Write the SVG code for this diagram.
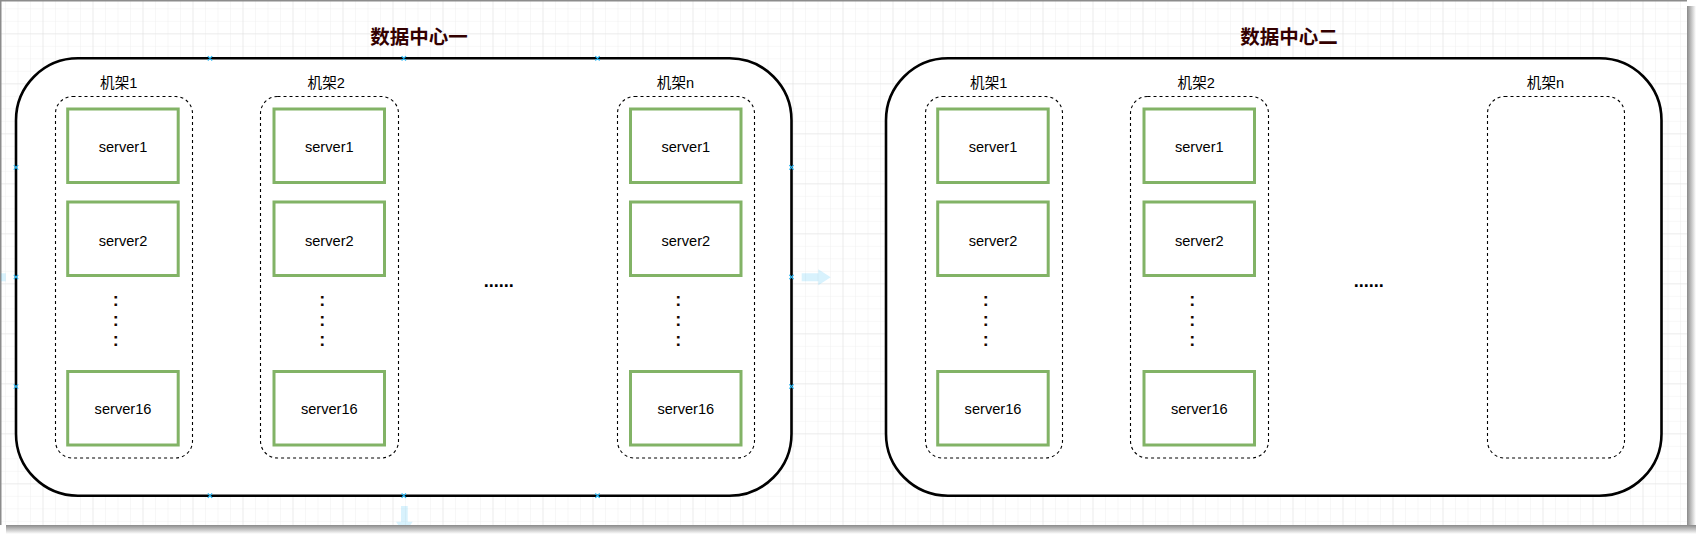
<svg xmlns="http://www.w3.org/2000/svg" width="1698" height="535" viewBox="0 0 1698 535">
  <defs>
    <pattern id="gridMinor" patternUnits="userSpaceOnUse" x="5" y="8.33" width="12.5" height="12.5">
      <path d="M0 0H12.5M0 0V12.5" fill="none" stroke="#efefef" stroke-width="1"/>
    </pattern>
    <pattern id="gridMajor" patternUnits="userSpaceOnUse" x="42.5" y="33.33" width="50" height="50">
      <path d="M0 0H50M0 0V50" fill="none" stroke="#e1e1e1" stroke-width="1"/>
    </pattern>
    <linearGradient id="shR" x1="0" y1="0" x2="1" y2="0">
      <stop offset="0" stop-color="#8a8a8a"/>
      <stop offset="1" stop-color="#ffffff"/>
    </linearGradient>
    <linearGradient id="shB" x1="0" y1="0" x2="0" y2="1">
      <stop offset="0" stop-color="#8a8a8a"/>
      <stop offset="1" stop-color="#ffffff"/>
    </linearGradient>
    <clipPath id="screen"><rect x="0" y="0" width="1687" height="525"/></clipPath>
  </defs>
  <style>
    .dc{fill:#ffffff;stroke:#000000;stroke-width:2.6}
    .rack{fill:none;stroke:#000000;stroke-width:1.1;stroke-dasharray:3 3}
    .srv{fill:#ffffff;stroke:#82b366;stroke-width:3}
    .t{font-family:"Liberation Sans",Arial,"Noto Sans CJK SC",sans-serif;font-size:14.6px;fill:#000000;text-anchor:middle}
    .title{font-family:"Noto Sans CJK SC","Liberation Sans",sans-serif;font-size:19.5px;font-weight:bold;fill:#330000;text-anchor:middle}
    .dots{font-family:"Liberation Sans",Arial,sans-serif;font-size:18px;font-weight:bold;fill:#000000;text-anchor:middle}
    .colon{font-family:"Liberation Sans",Arial,sans-serif;font-size:18px;font-weight:bold;fill:#1a0a00;text-anchor:middle}
    .mk{fill:none;stroke:#29b6f2;stroke-width:1.2}
    .hover{fill:#29b6f2;fill-opacity:0.18}
  </style>

  <!-- page background -->
  <rect x="0" y="0" width="1698" height="535" fill="#ffffff"/>
  <rect x="1687" y="6" width="9" height="527" fill="url(#shR)"/>
  <rect x="6" y="525" width="1690" height="9" fill="url(#shB)"/>
  <rect x="0" y="0" width="1687" height="525" fill="#ffffff"/>
  <rect x="0" y="0" width="1687" height="525" fill="url(#gridMinor)"/>
  <rect x="0" y="0" width="1687" height="525" fill="url(#gridMajor)"/>
  <path d="M0.75 525V0.75H1687" fill="none" stroke="#8c8c8c" stroke-width="1.5"/>

  <!-- ===== Data center 1 ===== -->
  <g id="dc1">
    <rect class="dc" x="16" y="58.3" width="775.5" height="437.4" rx="62" ry="62"/>
  </g>
  <g id="dc1-title">
    <text class="title" x="419" y="44">数据中心一</text>
  </g>

  <g id="dc1-rack1">
    <rect class="rack" x="55.5" y="96.5" width="137" height="361.5" rx="17" ry="17"/>
    <text class="t" x="118.7" y="88">机架1</text>
  </g>
  <g id="dc1-rack1-server1"><rect class="srv" x="67.7" y="109" width="110.5" height="73.5"/><text class="t" x="123" y="152.4">server1</text></g>
  <g id="dc1-rack1-server2"><rect class="srv" x="67.7" y="202" width="110.5" height="73.5"/><text class="t" x="123" y="245.6">server2</text></g>
  <g id="dc1-rack1-more"><text class="colon" x="115.7"><tspan x="115.7" y="306.3">:</tspan><tspan x="115.7" y="326.3">:</tspan><tspan x="115.7" y="346.3">:</tspan></text></g>
  <g id="dc1-rack1-server16"><rect class="srv" x="67.7" y="371.5" width="110.5" height="73.5"/><text class="t" x="123" y="414.3">server16</text></g>

  <g id="dc1-rack2">
    <rect class="rack" x="260.5" y="96.5" width="138" height="361.5" rx="17" ry="17"/>
    <text class="t" x="326.2" y="88">机架2</text>
  </g>
  <g id="dc1-rack2-server1"><rect class="srv" x="274" y="109" width="110.5" height="73.5"/><text class="t" x="329.3" y="152.4">server1</text></g>
  <g id="dc1-rack2-server2"><rect class="srv" x="274" y="202" width="110.5" height="73.5"/><text class="t" x="329.3" y="245.6">server2</text></g>
  <g id="dc1-rack2-more"><text class="colon" x="322.3"><tspan x="322.3" y="306.3">:</tspan><tspan x="322.3" y="326.3">:</tspan><tspan x="322.3" y="346.3">:</tspan></text></g>
  <g id="dc1-rack2-server16"><rect class="srv" x="274" y="371.5" width="110.5" height="73.5"/><text class="t" x="329.3" y="414.3">server16</text></g>

  <g id="dc1-ellipsis"><text class="dots" x="498.7" y="286.7">......</text></g>

  <g id="dc1-rackn">
    <rect class="rack" x="617.5" y="96.5" width="137" height="361.5" rx="17" ry="17"/>
    <text class="t" x="675.5" y="88">机架n</text>
  </g>
  <g id="dc1-rackn-server1"><rect class="srv" x="630.5" y="109" width="110.5" height="73.5"/><text class="t" x="685.8" y="152.4">server1</text></g>
  <g id="dc1-rackn-server2"><rect class="srv" x="630.5" y="202" width="110.5" height="73.5"/><text class="t" x="685.8" y="245.6">server2</text></g>
  <g id="dc1-rackn-more"><text class="colon" x="678.3"><tspan x="678.3" y="306.3">:</tspan><tspan x="678.3" y="326.3">:</tspan><tspan x="678.3" y="346.3">:</tspan></text></g>
  <g id="dc1-rackn-server16"><rect class="srv" x="630.5" y="371.5" width="110.5" height="73.5"/><text class="t" x="685.8" y="414.3">server16</text></g>

  <!-- ===== Data center 2 ===== -->
  <g id="dc2-layer" transform="translate(870 0)">
    <g id="dc2">
      <rect class="dc" x="16" y="58.3" width="775.5" height="437.4" rx="62" ry="62"/>
    </g>
    <g id="dc2-title">
      <text class="title" x="419" y="44">数据中心二</text>
    </g>

    <g id="dc2-rack1">
      <rect class="rack" x="55.5" y="96.5" width="137" height="361.5" rx="17" ry="17"/>
      <text class="t" x="118.7" y="88">机架1</text>
    </g>
    <g id="dc2-rack1-server1"><rect class="srv" x="67.7" y="109" width="110.5" height="73.5"/><text class="t" x="123" y="152.4">server1</text></g>
    <g id="dc2-rack1-server2"><rect class="srv" x="67.7" y="202" width="110.5" height="73.5"/><text class="t" x="123" y="245.6">server2</text></g>
    <g id="dc2-rack1-more"><text class="colon" x="115.7"><tspan x="115.7" y="306.3">:</tspan><tspan x="115.7" y="326.3">:</tspan><tspan x="115.7" y="346.3">:</tspan></text></g>
    <g id="dc2-rack1-server16"><rect class="srv" x="67.7" y="371.5" width="110.5" height="73.5"/><text class="t" x="123" y="414.3">server16</text></g>

    <g id="dc2-rack2">
      <rect class="rack" x="260.5" y="96.5" width="138" height="361.5" rx="17" ry="17"/>
      <text class="t" x="326.2" y="88">机架2</text>
    </g>
    <g id="dc2-rack2-server1"><rect class="srv" x="274" y="109" width="110.5" height="73.5"/><text class="t" x="329.3" y="152.4">server1</text></g>
    <g id="dc2-rack2-server2"><rect class="srv" x="274" y="202" width="110.5" height="73.5"/><text class="t" x="329.3" y="245.6">server2</text></g>
    <g id="dc2-rack2-more"><text class="colon" x="322.3"><tspan x="322.3" y="306.3">:</tspan><tspan x="322.3" y="326.3">:</tspan><tspan x="322.3" y="346.3">:</tspan></text></g>
    <g id="dc2-rack2-server16"><rect class="srv" x="274" y="371.5" width="110.5" height="73.5"/><text class="t" x="329.3" y="414.3">server16</text></g>

    <g id="dc2-ellipsis"><text class="dots" x="498.7" y="286.7">......</text></g>

    <g id="dc2-rackn">
      <rect class="rack" x="617.5" y="96.5" width="137" height="361.5" rx="17" ry="17"/>
      <text class="t" x="675.5" y="88">机架n</text>
    </g>
  </g>

  <!-- connectors: none in this diagram -->
  <g id="connectors"></g>

  <!-- editor hover overlay seen on data center 1 -->
  <g id="hover-overlay" clip-path="url(#screen)">
    <path class="hover" d="M801.7 273.3H818.3V269.3L830.7 277.3L818.3 285.3V281.3H801.7Z"/>
    <path class="hover" d="M1 273.3H5.8V281.3H1Z"/>
    <path class="hover" d="M401 506V521.7H396L404.3 534L412.7 521.7H407.7V506Z"/>
    <path class="mk" d="M207.8 56.1l4.4 4.4M212.2 56.1l-4.4 4.4M401.6 56.1l4.4 4.4M406 56.1l-4.4 4.4M595.3 56.1l4.4 4.4M599.7 56.1l-4.4 4.4"/>
    <path class="mk" d="M207.8 493.5l4.4 4.4M212.2 493.5l-4.4 4.4M401.6 493.5l4.4 4.4M406 493.5l-4.4 4.4M595.3 493.5l4.4 4.4M599.7 493.5l-4.4 4.4"/>
    <path class="mk" d="M13.8 165.2l4.4 4.4M18.2 165.2l-4.4 4.4M13.8 274.8l4.4 4.4M18.2 274.8l-4.4 4.4M13.8 384.3l4.4 4.4M18.2 384.3l-4.4 4.4"/>
    <path class="mk" d="M789.3 165.2l4.4 4.4M793.7 165.2l-4.4 4.4M789.3 274.8l4.4 4.4M793.7 274.8l-4.4 4.4M789.3 384.3l4.4 4.4M793.7 384.3l-4.4 4.4"/>
  </g>
</svg>
